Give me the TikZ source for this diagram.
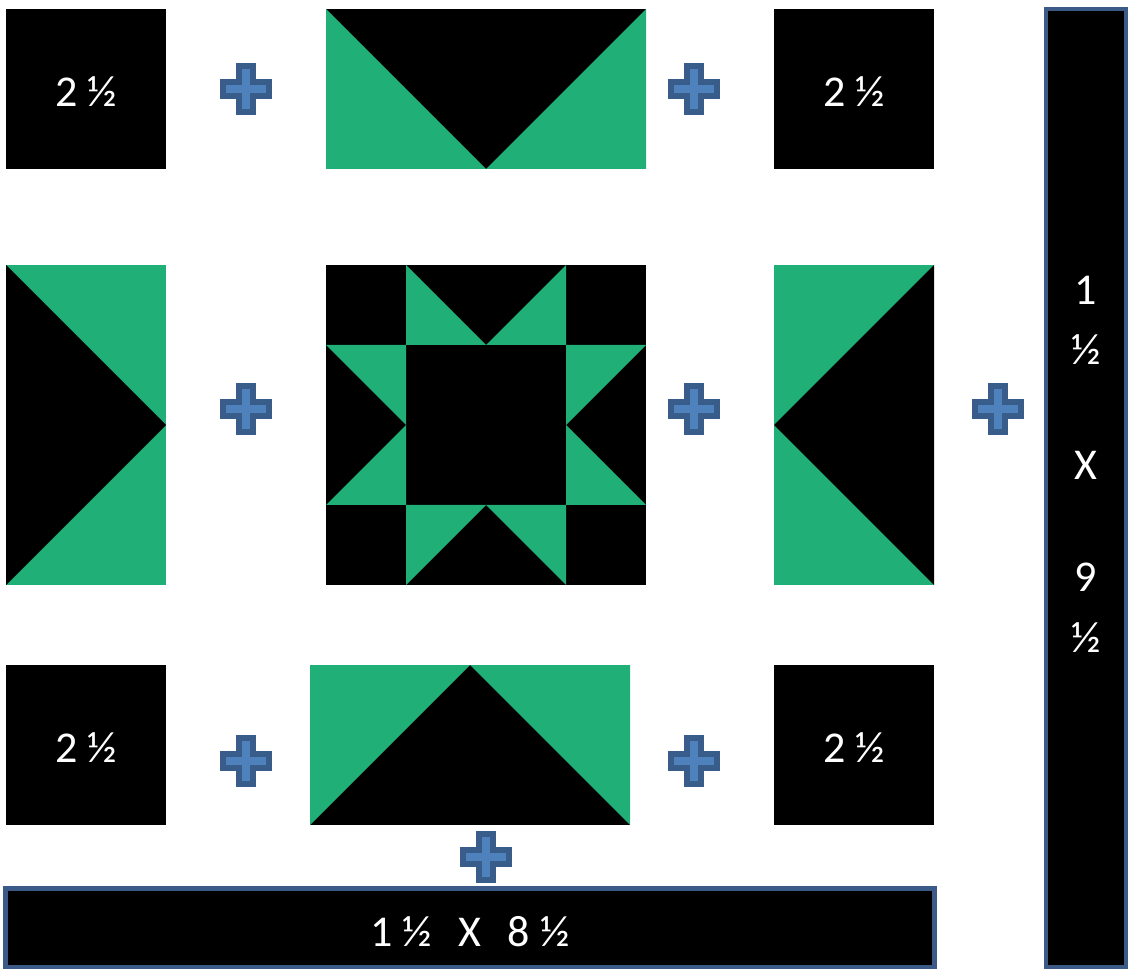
\documentclass[tikz,border=0pt]{standalone}
\usepackage{fontspec}
\setmainfont{Carlito}
\definecolor{quiltgreen}{RGB}{33,175,120}
\definecolor{plusfill}{RGB}{79,129,189}
\definecolor{plusedge}{RGB}{56,93,138}
\definecolor{stripedge}{RGB}{60,90,135}
\tikzset{
  blk/.style={fill=black},
  grn/.style={fill=quiltgreen},
  lbl/.style={text=white,font=\fontsize{33}{36}\selectfont,inner sep=0pt},
  strip/.style={fill=black,draw=stripedge,line width=3.5pt},
  plussign/.pic={\filldraw[fill=plusfill,draw=plusedge,line width=4.6pt]
    (-7.3,-23.2)--(7.3,-23.2)--(7.3,-7.3)--(23.2,-7.3)--(23.2,7.3)--(7.3,7.3)--(7.3,23.2)--(-7.3,23.2)--(-7.3,7.3)--(-23.2,7.3)--(-23.2,-7.3)--(-7.3,-7.3)--cycle;}
}
\begin{document}
\begin{tikzpicture}[x=0.75pt,y=-0.75pt]
\useasboundingbox (0,0) rectangle (1128,969);
% top row
\fill[blk] (6,9) rectangle (166,169);
\node[lbl] (tl) at (86,92) {2 ½};
\fill[blk] (326,9) rectangle (646,169);
\fill[grn] (326,9)--(486,169)--(326,169)--cycle;
\fill[grn] (646,9)--(646,169)--(486,169)--cycle;
\fill[blk] (774,9) rectangle (934,169);
\node[lbl] (tr) at (854,92) {2 ½};
% middle row left
\fill[grn] (6,265) rectangle (166,585);
\fill[blk] (6,265)--(166,425)--(6,585)--cycle;
% star
\fill[blk] (326,265) rectangle (646,585);
\fill[grn] (406,265)--(486,345)--(406,345)--cycle;
\fill[grn] (566,265)--(566,345)--(486,345)--cycle;
\fill[grn] (326,345)--(406,345)--(406,425)--cycle;
\fill[grn] (326,505)--(406,425)--(406,505)--cycle;
\fill[grn] (566,345)--(646,345)--(566,425)--cycle;
\fill[grn] (566,425)--(646,505)--(566,505)--cycle;
\fill[grn] (406,505)--(486,505)--(406,585)--cycle;
\fill[grn] (486,505)--(566,505)--(566,585)--cycle;
% middle row right
\fill[grn] (774,265) rectangle (934,585);
\fill[blk] (934,265)--(774,425)--(934,585)--cycle;
% bottom row
\fill[blk] (6,665) rectangle (166,825);
\node[lbl] (bl) at (86,748) {2 ½};
\fill[blk] (310,665) rectangle (630,825);
\fill[grn] (310,665)--(470,665)--(310,825)--cycle;
\fill[grn] (470,665)--(630,665)--(630,825)--cycle;
\fill[blk] (774,665) rectangle (934,825);
\node[lbl] (br) at (854,748) {2 ½};
% strips
\draw[strip] (5.5,888.5) rectangle (934.5,967);
\node[lbl] (bs) at (470,932) {1 ½\hspace{0.6em}X\hspace{0.6em}8 ½};
\draw[strip] (1046,9) rectangle (1126,967);
\node[lbl] (r1) at (1086,290) {1};
\node[lbl] (r2) at (1086,350) {½};
\node[lbl] (r3) at (1086,465) {X};
\node[lbl] (r4) at (1086,577) {9};
\node[lbl] (r5) at (1086,638) {½};
% plus signs
\pic at (246,89) {plussign};
\pic at (694,89) {plussign};
\pic at (246,409) {plussign};
\pic at (694,409) {plussign};
\pic at (998,409) {plussign};
\pic at (246,761) {plussign};
\pic at (694,761) {plussign};
\pic at (486,857) {plussign};
\end{tikzpicture}
\end{document}
